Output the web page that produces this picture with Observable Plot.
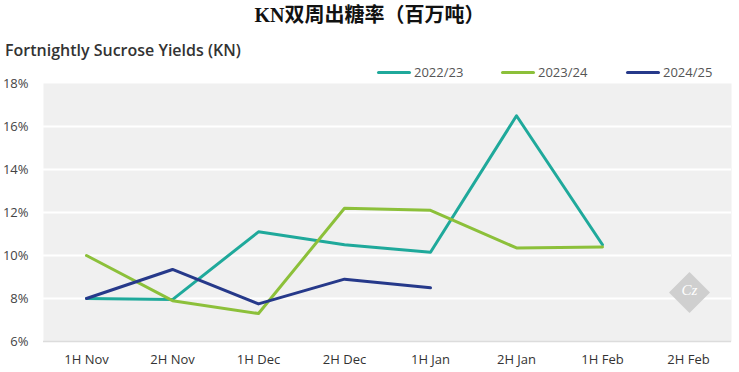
<!DOCTYPE html>
<html>
<head>
<meta charset="utf-8">
<script src="https://cdn.jsdelivr.net/npm/d3@7"></script>
<script src="https://cdn.jsdelivr.net/npm/@observablehq/plot@0.6"></script>
<style>
  html, body { margin: 0; padding: 0; background: #fff; }
  #wrap { position: relative; width: 739px; height: 372px; font-family: "Open Sans", sans-serif; }
  #head { position: relative; height: 60px; }
  #title { position: absolute; left: 0; width: 739px; top: 2px; text-align: center; font-size: 20px; font-weight: bold; color: #111; font-family: "Noto Sans CJK SC", sans-serif; line-height: 24px; }
  #title .lat { font-family: "Liberation Serif", serif; }
  #sub { position: absolute; left: 5px; top: 40px; font-size: 16px; font-weight: 600; color: #333; line-height: 20px; }
  .leg { position: absolute; top: 63px; font-size: 13px; color: #555; line-height: 18px; display: flex; align-items: center; z-index: 2; }
  .leg i { display: inline-block; width: 34px; height: 3px; margin-right: 3px; border-radius: 2px; }
  #wm { position: absolute; left: 675px; top: 278px; width: 29px; height: 29px; background: #cfcfcf; transform: rotate(45deg); }
  #wmt { position: absolute; left: 675px; top: 282px; width: 29px; text-align: center; color: #fff; font-family: "Liberation Serif", serif; font-size: 15px; font-style: italic; }
</style>
</head>
<body>
<div id="wrap">
  <div id="head">
    <div id="title"><span class="lat">KN</span>双周出糖率（百万吨）</div>
    <div id="sub">Fortnightly Sucrose Yields (KN)</div>
  </div>
  <div id="legend"></div>
  <div id="chart"></div>
  <div id="wm"></div><div id="wmt">Cz</div>
</div>
<script>
const periods = ["1H Nov", "2H Nov", "1H Dec", "2H Dec", "1H Jan", "2H Jan", "1H Feb", "2H Feb"];
const seasons = ["2022/23", "2023/24", "2024/25"];
const colors = ["#1fa99b", "#8cc03a", "#26398a"];
const y2022 = [8.0, 7.95, 11.1, 10.5, 10.15, 16.5, 10.5];
const y2023 = [10.0, 7.9, 7.3, 12.2, 12.1, 10.35, 10.4];
const y2024 = [8.0, 9.35, 7.75, 8.9, 8.5];
const yTicks = [6, 8, 10, 12, 14, 16, 18];
const gridLines = [8, 10, 12, 14, 16];

const series = [y2022, y2023, y2024];
const data = [];
series.forEach((vals, i) => vals.forEach((v, j) => data.push({season: seasons[i], period: periods[j], value: v})));

// legend
const legendLeft = [377, 501, 626];
const legend = document.getElementById("legend");
seasons.forEach((s, i) => {
  const d = document.createElement("div");
  d.className = "leg";
  d.style.left = legendLeft[i] + "px";
  d.innerHTML = `<i style="background:${colors[i]}"></i><span>${s}</span>`;
  legend.appendChild(d);
});

const chart = Plot.plot({
  width: 739,
  height: 312,
  marginTop: 23,
  marginBottom: 31,
  marginLeft: 43,
  marginRight: 8,
  style: {fontFamily: "Open Sans, sans-serif", fontSize: "13px", color: "#444", background: "transparent"},
  x: {type: "point", domain: periods, padding: 0.5, label: null},
  y: {domain: [6, 18], ticks: yTicks, label: null},
  color: {domain: seasons, range: colors},
  marks: [
    Plot.frame({fill: "#f0f0f0", stroke: null}),
    Plot.ruleY(gridLines, {stroke: "#fff", strokeWidth: 2}),
    Plot.ruleY([6], {stroke: "#dcdcdc", strokeWidth: 1.5}),
    Plot.axisY({ticks: yTicks, tickSize: 0, tickPadding: 15, tickFormat: d => d + "%", label: null, fill: "#444"}),
    Plot.axisX({tickSize: 0, tickPadding: 13, label: null, fill: "#333"}),
    Plot.line(data, {x: "period", y: "value", z: "season", stroke: "season", strokeWidth: 3})
  ]
});
document.getElementById("chart").appendChild(chart);
</script>
</body>
</html>
